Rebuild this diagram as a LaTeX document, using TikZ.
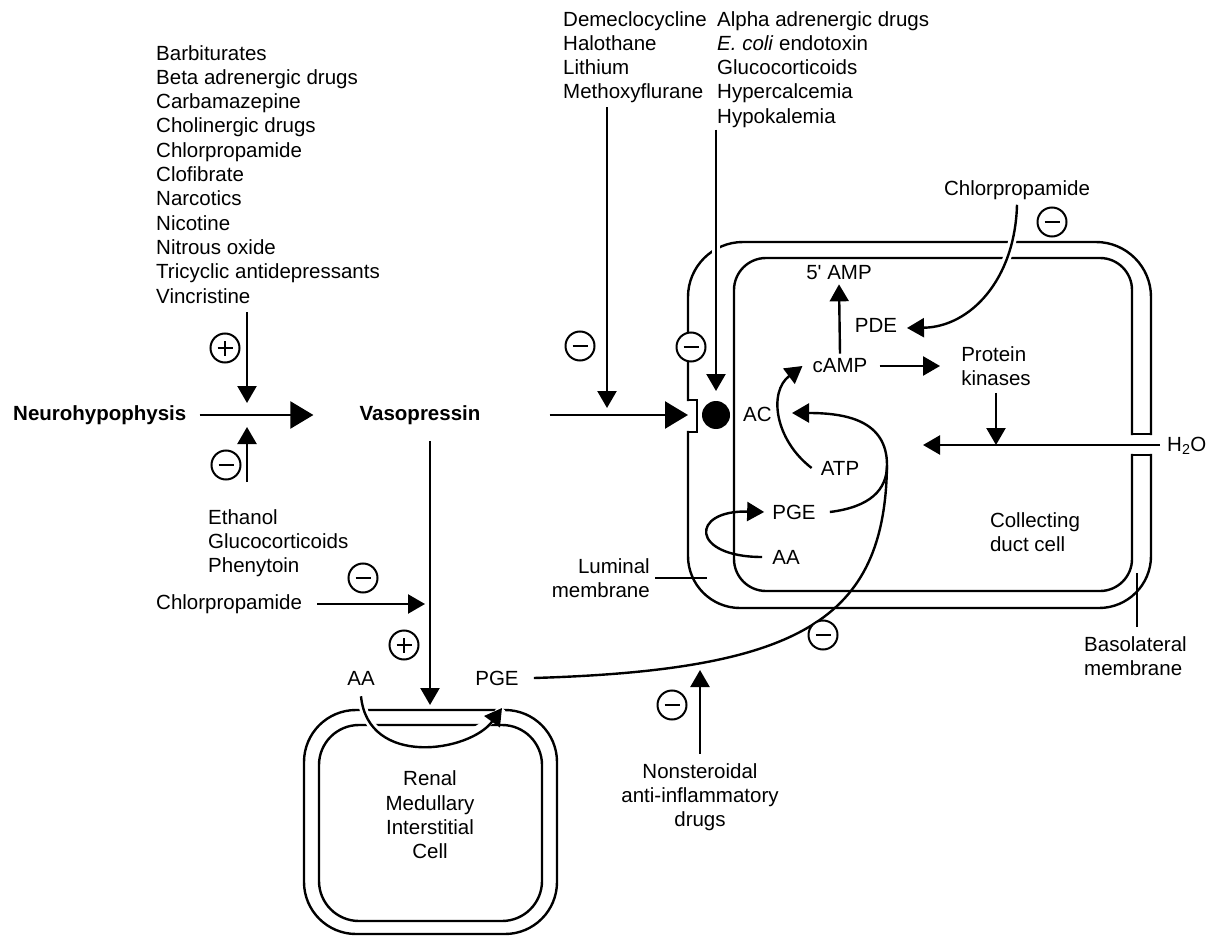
\documentclass[tikz,border=0pt]{standalone}
\usepackage{fontspec}
\setmainfont{Liberation Sans}
\usetikzlibrary{arrows.meta}

\begin{document}
\begin{tikzpicture}[x=1pt,y=-1pt,line width=2.4pt,
	txt/.style={font=\fontsize{20.5}{24.3}\selectfont,inner sep=0pt},
	bold/.style={txt,font=\fontsize{20.5}{24.3}\selectfont\bfseries},
	arr/.style={-{Triangle[length=17pt,width=19pt]}},
	bigarr/.style={-{Triangle[length=23pt,width=27pt]}},
	halo/.style={preaction={draw=white,line width=8pt,arrows=-}},
	sign/.style={circle,draw,fill=white,line width=2pt,minimum size=29pt,inner sep=0pt},
	inhib/.style={sign,path picture={\draw[line width=2pt] ([xshift=-7.5pt]path picture bounding box.center) -- ([xshift=7.5pt]path picture bounding box.center);}},
	stim/.style={sign,path picture={\draw[line width=2pt] ([xshift=-7.5pt]path picture bounding box.center) -- ([xshift=7.5pt]path picture bounding box.center) ([yshift=-7.5pt]path picture bounding box.center) -- ([yshift=7.5pt]path picture bounding box.center);}}]
	\useasboundingbox (0,0) rectangle (1211,936);

	% texts
	\node[txt,anchor=north west,align=left] (stimlist) at (155,44) {Barbiturates\\Beta adrenergic drugs\\Carbamazepine\\Cholinergic drugs\\Chlorpropamide\\Clofibrate\\Narcotics\\Nicotine\\Nitrous oxide\\Tricyclic antidepressants\\Vincristine};
	\node[txt,anchor=north west,align=left] (demlist) at (562,10) {Demeclocycline\\Halothane\\Lithium\\Methoxyflurane};
	\node[txt,anchor=north west,align=left] (alphalist) at (716,10) {Alpha adrenergic drugs\\\textit{E. coli} endotoxin\\Glucocorticoids\\Hypercalcemia\\Hypokalemia};
	\node[txt,anchor=north west,align=left] (ethlist) at (207,508) {Ethanol\\Glucocorticoids\\Phenytoin};
	\node[txt,anchor=west] (chlorL) at (155,604) {Chlorpropamide};
	\node[txt] (chlorR) at (1017,190) {Chlorpropamide};
	\node[bold,anchor=west] (neuro) at (12,415) {Neurohypophysis};
	\node[bold] (vaso) at (420,415) {Vasopressin};
	\node[txt,anchor=west] (ac) at (742,414) {AC};
	\node[txt] (amp) at (839,273) {5\textquotesingle{} AMP};
	\node[txt] (pde) at (876,325) {PDE};
	\node[txt] (camp) at (840,366) {cAMP};
	\node[txt,align=left] (pk) at (996,366) {Protein\\kinases};
	\node[txt] (atp) at (840,468) {ATP};
	\node[txt] (pgeC) at (794,512) {PGE};
	\node[txt] (aaC) at (786,557) {AA};
	\node[txt,align=left] (cdc) at (1035,532) {Collecting\\duct cell};
	\node[txt,align=right,anchor=east] (lum) at (651,578) {Luminal\\membrane};
	\node[txt,align=left,anchor=north west] (baso) at (1083,635) {Basolateral\\membrane};
	\node[txt,anchor=west] (water) at (1166,446) {H\textsubscript{2}O};
	\node[txt] (aaL) at (361,678) {AA};
	\node[txt] (pgeL) at (497,678) {PGE};
	\node[txt,align=center] (nsaid) at (700,797) {Nonsteroidal\\anti-inflammatory\\drugs};
	\node[txt,align=center] (rmic) at (430,815) {Renal\\Medullary\\Interstitial\\Cell};

	\coordinate (jn) at (247,415);
	\coordinate (cellin) at (430,705);
	\coordinate (recin) at (688,415);
	\coordinate (demin) at (607,408);
	\coordinate (acin) at (792,413);
	\coordinate (pgeturn) at (887,465);
	\coordinate (h2oin) at (1160,445);
	\coordinate (h2otip) at (923,445);
	\coordinate (nsaidtip) at (700,670);
	\coordinate (pgeLtip) at (502,708);
	\coordinate (pdetip) at (907,328);

	% collecting duct cell
	\begin{scope}[line cap=rect]
		\draw[rounded corners=52pt] (1151,455) -- (1151,608) -- (688,608) -- (688,432);
		\draw (688,432) -- (697,432) -- (697,400) -- (688,400);
		\draw[rounded corners=55pt] (688,400) -- (688,242) -- (1151,242) -- (1151,434);
		\draw (1151,434) -- (1132,434);
		\draw (1151,455) -- (1132,455);
		\draw[rounded corners=32pt] (1132,434) -- (1132,258) -- (734,258) -- (734,591) -- (1132,591) -- (1132,455);
	\end{scope}

	% renal medullary interstitial cell
	\draw[rounded corners=52pt] (304,710) rectangle (557,934);
	\draw[rounded corners=40pt] (319,725) rectangle (542,921);

	\node[circle,fill,minimum size=28pt,inner sep=0pt] (rec) at (716,415) {};

	% connectors
	\draw[bigarr] ([xshift=12pt]neuro.east) -- ([xshift=-45pt]vaso.west);
	\draw[arr,shorten <=8pt] (stimlist.south -| jn) -- ([yshift=12pt]jn);
	\draw[arr,shorten <=26pt] (ethlist.north -| jn) -- ([yshift=-12pt]jn);
	\draw[arr,shorten <=15pt] (vaso.south -| cellin) -- (cellin);
	\draw[arr,shorten >=5pt] ([xshift=14pt]chlorL.east) -- (chlorL.east -| cellin);
	\draw[bigarr] ([xshift=68pt]vaso.east) -- (recin);
	\draw[arr,shorten <=3pt] (demlist.south -| demin) -- (demin);
	\draw[arr,halo,shorten <=1pt] (alphalist.south -| rec) -- ([yshift=24pt]rec.center);
	\draw[arr,halo] ([yshift=-4pt]chlorR.south) .. controls (1015,280) and (970,327) .. (pdetip);
	\draw[arr] ([yshift=4pt]camp.north) -- ([yshift=-3pt]amp.south);
	\draw[arr] ([xshift=11pt]camp.east) -- ([xshift=-20pt]pk.west);
	\draw[arr,shorten <=6pt] (pk.south) -- (pk.south |- h2otip);
	\draw[arr] (h2oin) -- (h2otip);
	\draw[arr] ([xshift=-8pt]atp.west) .. controls (775,440) and (768,392) .. ([xshift=-9pt]camp.west);
	\draw[arr] ([xshift=13pt]pgeC.east) .. controls (870,507) and (887,490) .. (pgeturn) .. controls (887,420) and (845,413) .. (acin);
	\draw[arr] ([xshift=-9pt]aaC.west) .. controls (690,557) and (690,510) .. ([xshift=-7pt]pgeC.west);
	\draw ([xshift=14pt]pgeL.east) .. controls (800,670) and (885,620) .. (pgeturn);
	\draw[arr,halo] ([yshift=-10pt]aaL.south) .. controls (368,768) and (470,752) .. (pgeLtip);
	\draw[arr,shorten <=8pt] (nsaid.north) -- (nsaidtip);
	\draw ([xshift=4pt]lum.east) -- ++(52,0);
	\draw ([xshift=54pt,yshift=8pt]baso.north west) -- ++(0,-54);

	% signs
	\node[stim] (s1) at (225,348) {};
	\node[inhib] (s2) at (226,465) {};
	\node[inhib] (s3) at (363,578) {};
	\node[stim] (s4) at (404,645) {};
	\node[inhib] (s5) at (580,346) {};
	\node[inhib] (s6) at (691,347) {};
	\node[inhib] (s7) at (1052,222) {};
	\node[inhib] (s8) at (823,635) {};
	\node[inhib] (s9) at (672,705) {};
\end{tikzpicture}
\end{document}
